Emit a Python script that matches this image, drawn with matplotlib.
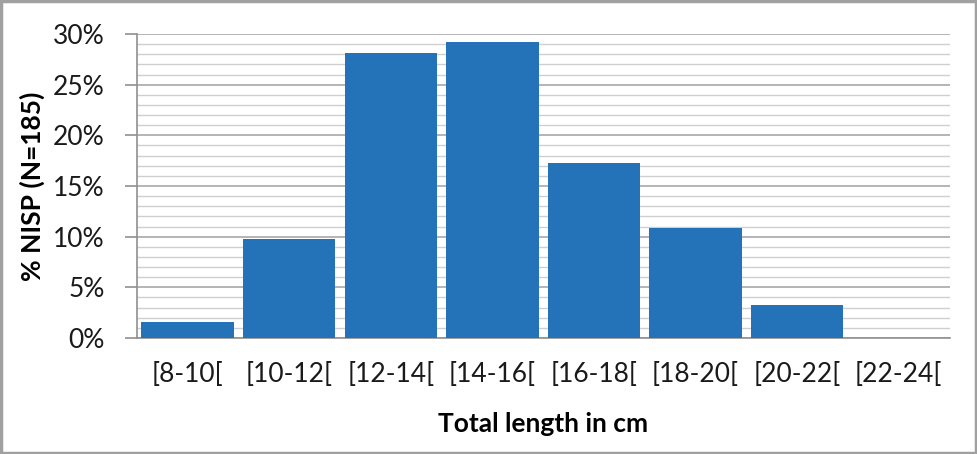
import matplotlib.pyplot as plt
from matplotlib.ticker import MultipleLocator, PercentFormatter
from matplotlib.patches import Rectangle

# bins of total length and share of NISP (N=185)
bins = ['[8-10[', '[10-12[', '[12-14[', '[14-16[', '[16-18[', '[18-20[', '[20-22[', '[22-24[']
counts = [3, 18, 52, 54, 32, 20, 6, 0]
n_total = 185
pct = [c / n_total * 100 for c in counts]

plt.rcParams['font.family'] = ['Lato', 'DejaVu Sans']

fig = plt.figure(figsize=(9.77, 4.54), dpi=100)
ax = fig.add_axes([0.140, 0.2555, 0.832, 0.6695])

ax.bar(range(len(bins)), pct, width=0.91, color='#2473b8', zorder=3)

ax.set_xlim(-0.5, len(bins) - 0.5)
ax.set_ylim(0, 30)
ax.yaxis.set_major_locator(MultipleLocator(5))
ax.yaxis.set_minor_locator(MultipleLocator(1))
ax.yaxis.set_major_formatter(PercentFormatter(decimals=0))
ax.grid(axis='y', which='major', color='#a8a8a8', linewidth=1.2, zorder=0)
ax.grid(axis='y', which='minor', color='#cfcfcf', linewidth=1.0, zorder=0)

ax.set_xticks(range(len(bins)))
ax.set_xticklabels(bins)
ax.tick_params(axis='x', length=0, pad=17, labelsize=19, colors='#1a1a1a')
ax.tick_params(axis='y', which='major', length=9, width=1.2, color='#909090',
               labelsize=19, colors='#1a1a1a', pad=14)
ax.tick_params(axis='y', which='minor', length=0)

for side in ['top', 'right']:
    ax.spines[side].set_visible(False)
ax.spines['left'].set_color('#909090')
ax.spines['bottom'].set_color('#909090')
ax.spines['left'].set_linewidth(1.2)
ax.spines['bottom'].set_linewidth(1.2)

ax.set_xlabel('Total length in cm', fontsize=19, fontweight='bold', labelpad=18)
ax.set_ylabel('% NISP (N=185)', fontsize=19, fontweight='bold', labelpad=6)

# outer frame of the picture
fig.patches.append(Rectangle((0.0015, 0.003), 0.997, 0.994, transform=fig.transFigure,
                             fill=False, edgecolor='#a0a0a0', linewidth=2.5))

fig.savefig('out.png', dpi=100)
